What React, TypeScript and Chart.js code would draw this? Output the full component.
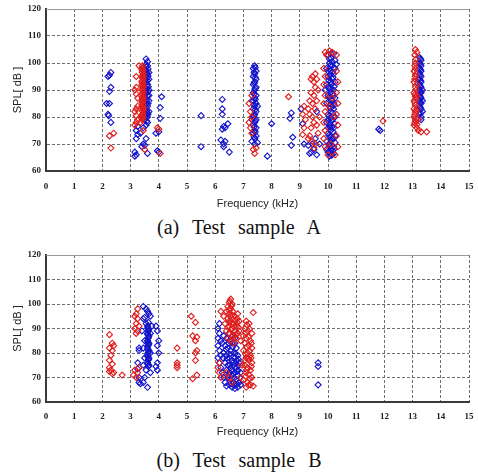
import React, { useEffect, useRef } from "react";
import { Chart, registerables } from "chart.js";

Chart.register(...registerables);

type Pt = [number, number];

const X_MIN = 0;
const X_MAX = 15;
const Y_MIN = 60;
const Y_MAX = 120;
const X_TITLE = "Frequency (kHz)";
const Y_TITLE = "SPL[ dB ]";
const CAPTION_A = "(a)  Test  sample  A";
const CAPTION_B = "(b)  Test  sample  B";

// ---- Test sample A ----
const sampleA_red: Pt[] = [
  [2.25, 73], [2.4, 74], [2.3, 68.5],
  [3.2, 95], [3.2, 91], [3.15, 90], [3.2, 88.5], [3.25, 87], [3.2, 83], [3.15, 82], [3.2, 80.5], [3.25, 79], [3.2, 78], [3.15, 77], [3.25, 84],
  [3.42, 99], [3.4, 97.5], [3.45, 96], [3.42, 94.5], [3.4, 93], [3.45, 91.5], [3.42, 90], [3.4, 88.5], [3.45, 87], [3.42, 85.5], [3.4, 84], [3.45, 82.5], [3.42, 81], [3.4, 79.5], [3.45, 95], [3.4, 92], [3.45, 89], [3.4, 86], [3.45, 83.5], [3.4, 80.5],
  [3.41, 79], [3.44, 79.8], [3.41, 80.6], [3.44, 81.4], [3.41, 82.2], [3.44, 83], [3.41, 83.8], [3.44, 84.6], [3.41, 85.4], [3.44, 86.2], [3.41, 87], [3.44, 87.8], [3.41, 88.6], [3.44, 89.4], [3.41, 90.2], [3.44, 91], [3.41, 91.8], [3.44, 92.6], [3.41, 93.4], [3.44, 94.2], [3.41, 95], [3.44, 95.8], [3.41, 96.6], [3.44, 97.4], [3.41, 98.2],
  [3.5, 68], [3.45, 75], [3.3, 99], [3.35, 78],
  [4.0, 75.5], [3.95, 76], [4.05, 66.5],
  [7.2, 85], [7.25, 82], [7.2, 78], [7.3, 74], [7.3, 88], [7.35, 68], [7.4, 66.5], [7.45, 68.5], [7.3, 80], [7.25, 76],
  [8.6, 87.5],
  [9.1, 81], [9.15, 84], [9.1, 73.5], [9.15, 76], [9.2, 79], [9.3, 83], [9.35, 86], [9.4, 94], [9.45, 95], [9.5, 93], [9.55, 91], [9.4, 89], [9.5, 88], [9.45, 85], [9.6, 86], [9.35, 81], [9.45, 80], [9.55, 83], [9.5, 78], [9.4, 76], [9.6, 77], [9.35, 73], [9.45, 71], [9.55, 70], [9.65, 74], [9.7, 80], [9.65, 90], [9.6, 94], [9.55, 96], [9.3, 72], [9.5, 68.5],
  [9.9, 104], [9.95, 103], [10.05, 104.5], [10.15, 104], [10.3, 103], [9.85, 98], [9.9, 95], [9.85, 92], [9.9, 88], [9.85, 85], [9.9, 82], [9.85, 78], [9.9, 75], [9.85, 72], [9.9, 69], [10.3, 97], [10.35, 93], [10.3, 89], [10.35, 85], [10.3, 81], [10.35, 77], [10.3, 73], [10.35, 69], [10.25, 66], [10.0, 66], [10.1, 70], [10.2, 80], [10.05, 84], [10.15, 87],
  [11.95, 78.5],
  [13.1, 105], [13.15, 104], [13.1, 100], [13.05, 97], [13.1, 95], [13.05, 93], [13.1, 91], [13.05, 89], [13.1, 87.5], [13.05, 86], [13.1, 84.5], [13.05, 83], [13.1, 81.5], [13.05, 80], [13.1, 78.5], [13.05, 77], [13.15, 76], [13.2, 75], [13.3, 74.5], [13.5, 74.5], [13.15, 92], [13.15, 88], [13.15, 83], [13.2, 79], [13.1, 98],
  [13.08, 103], [13.12, 101.5], [13.08, 99], [13.12, 96], [13.08, 94], [13.12, 90], [13.08, 88.3], [13.12, 86.8], [13.08, 85.3], [13.12, 82.2], [13.08, 80.8], [13.12, 79.3], [13.08, 77.8], [13.15, 77.2],
];

const sampleA_blue: Pt[] = [
  [2.3, 96.5], [2.25, 95.5], [2.2, 95], [2.3, 91], [2.25, 89.5], [2.15, 85], [2.25, 85], [2.2, 81], [2.22, 80.5], [2.3, 78],
  [3.2, 75], [3.25, 73.5], [3.2, 72], [3.15, 67], [3.2, 66], [3.15, 65.5], [3.25, 76.5],
  [3.55, 101.5], [3.6, 99], [3.5, 98], [3.55, 97], [3.6, 96], [3.5, 95], [3.65, 94], [3.55, 93], [3.6, 92], [3.5, 91], [3.65, 90], [3.55, 89], [3.6, 88], [3.5, 87], [3.65, 86], [3.55, 85], [3.6, 84], [3.5, 83], [3.65, 82], [3.55, 81], [3.6, 80], [3.5, 79], [3.6, 78], [3.55, 77], [3.65, 96.5], [3.6, 93.5], [3.55, 90.5], [3.65, 88], [3.5, 85.5], [3.6, 81.5], [3.5, 92.5], [3.55, 99.5],
  [3.57, 78.5], [3.52, 80.2], [3.62, 81], [3.57, 82.3], [3.52, 84], [3.62, 85], [3.57, 86.2], [3.52, 88.3], [3.62, 89.4], [3.57, 91.7], [3.52, 93.8], [3.62, 95.2], [3.57, 96.4], [3.52, 97.2], [3.62, 97.8], [3.57, 98.6], [3.6, 100.5], [3.53, 89.6], [3.63, 91.2], [3.58, 94.6],
  [3.45, 70], [3.5, 69.5], [3.55, 72], [3.6, 66.5], [3.4, 69], [3.45, 76], [3.35, 74],
  [4.1, 87.5], [4.05, 83.5], [4.05, 79.5], [4.0, 74.5], [3.9, 74], [3.95, 67.5], [4.0, 67],
  [5.5, 80.5], [5.5, 69],
  [6.25, 86.5], [6.25, 83], [6.25, 81], [6.3, 76.5], [6.35, 76], [6.45, 77.5], [6.2, 71.5], [6.3, 70], [6.35, 71], [6.5, 67], [6.25, 75.5], [6.3, 69],
  [7.4, 99], [7.35, 98], [7.45, 97], [7.4, 96], [7.35, 95], [7.45, 94], [7.4, 93], [7.35, 92], [7.45, 91], [7.4, 90], [7.35, 89], [7.45, 88], [7.4, 87], [7.35, 86], [7.45, 85], [7.4, 84], [7.35, 83], [7.45, 82], [7.4, 81], [7.35, 80], [7.45, 79], [7.4, 78], [7.35, 77], [7.45, 76], [7.4, 75], [7.35, 74], [7.45, 73], [7.4, 72], [7.3, 71], [7.5, 70.5], [7.3, 86], [7.5, 84], [7.3, 79],
  [7.42, 98.3], [7.38, 96.6], [7.42, 94.7], [7.38, 92.5], [7.42, 90.6], [7.38, 88.4], [7.42, 86.5], [7.38, 84.6], [7.42, 82.7], [7.38, 80.4], [7.42, 78.6], [7.38, 76.3], [7.42, 74.4], [7.38, 72.6], [7.4, 70],
  [7.85, 65.5], [8.0, 77.5],
  [8.7, 81.5], [8.65, 79.5], [8.75, 72.5], [8.7, 69.5],
  [9.1, 77.5], [9.05, 83], [9.15, 70], [9.3, 69.5], [9.4, 67], [9.5, 68], [9.6, 66], [9.45, 70], [9.55, 72], [9.35, 66.5], [9.6, 82], [9.7, 70],
  [10.0, 103], [10.1, 102], [10.2, 103.5], [10.05, 100], [10.15, 99], [10.25, 101], [9.95, 98], [10.1, 97], [10.2, 96], [10.0, 95], [10.15, 94], [10.25, 93], [9.95, 92], [10.05, 91], [10.2, 90], [10.1, 89], [10.0, 88], [10.25, 87], [10.15, 86], [9.95, 85], [10.05, 84], [10.2, 83], [10.1, 82], [10.0, 81], [10.25, 80], [10.15, 79], [9.95, 78], [10.05, 77], [10.2, 76], [10.1, 75], [10.0, 74], [10.25, 73], [10.15, 72], [9.95, 71], [10.05, 70], [10.2, 69], [10.1, 68], [10.0, 67], [10.15, 66], [10.05, 65.5], [10.25, 98], [10.1, 93], [10.05, 87.5], [10.2, 85], [10.0, 79], [10.15, 76.5], [10.1, 72.5], [10.25, 70.5], [9.95, 68], [10.2, 66.5], [10.3, 99.5], [9.9, 90],
  [10.1, 103.5], [10.05, 101.5], [10.15, 100.5], [10.1, 99.3], [10.0, 97], [10.2, 98.2], [10.08, 95.8], [10.18, 94.7], [10.03, 93.6], [10.13, 92.2], [10.22, 91.3], [10.07, 90.2], [10.17, 88.6], [10.02, 87.2], [10.12, 86.4], [10.22, 84.4], [10.08, 83.2], [10.17, 81.6], [10.03, 80.3], [10.13, 78.4], [10.22, 77.6], [10.07, 76.2], [10.18, 74.5], [10.03, 73.2], [10.12, 71.3], [10.22, 68.2], [10.08, 69.2], [10.17, 67.6], [10.02, 69.8], [10.12, 65.8], [10.1, 84.8], [10.2, 88], [10.0, 91], [10.15, 96.5], [10.05, 97.8], [10.1, 79.6], [10.0, 76], [10.2, 72], [10.05, 67],
  [11.8, 75.5], [11.85, 75],
  [13.25, 102], [13.3, 101], [13.25, 100], [13.3, 99], [13.25, 98], [13.3, 97], [13.25, 96], [13.3, 95], [13.25, 94], [13.3, 93], [13.25, 92], [13.3, 91], [13.25, 90], [13.3, 89], [13.25, 88], [13.3, 87], [13.25, 86], [13.3, 85], [13.25, 84], [13.3, 83], [13.35, 82], [13.25, 81], [13.3, 80], [13.35, 86], [13.35, 90], [13.2, 94],
  [13.28, 101.5], [13.27, 99.5], [13.28, 97.5], [13.27, 95.5], [13.28, 93.5], [13.27, 91.5], [13.28, 89.5], [13.27, 87.5], [13.28, 85.5], [13.27, 83.5], [13.28, 81.5], [13.3, 79],
];

// ---- Test sample B ----
const sampleB_red: Pt[] = [
  [2.25, 87.5], [2.35, 84], [2.4, 83], [2.25, 82], [2.35, 81], [2.3, 79], [2.25, 77], [2.35, 75.5], [2.25, 74], [2.3, 73], [2.4, 72], [2.25, 72.5], [2.35, 71.5], [2.7, 71],
  [3.25, 98], [3.2, 96], [3.15, 95], [3.25, 94], [3.2, 92], [3.3, 91], [3.15, 90], [3.25, 89], [3.2, 88], [3.3, 74], [3.15, 73], [3.1, 71], [3.2, 70], [3.25, 72],
  [4.65, 82], [4.65, 76], [4.65, 75], [4.65, 74],
  [5.15, 95], [5.3, 92.5], [5.2, 87], [5.35, 86.5], [5.3, 85], [5.35, 81], [5.3, 80], [5.3, 77], [5.2, 69.5], [5.35, 71],
  [6.2, 97], [6.15, 76], [6.1, 74], [6.15, 72], [6.2, 70],
  [6.55, 102], [6.5, 100.5], [6.6, 100], [6.45, 99], [6.55, 98], [6.4, 97], [6.5, 96], [6.6, 95.5], [6.7, 95], [6.8, 96], [6.45, 94], [6.55, 93], [6.65, 92], [6.75, 91], [6.85, 93], [6.5, 91], [6.6, 90], [6.7, 89], [6.8, 88], [6.4, 89], [6.5, 88], [6.6, 87], [6.75, 86], [6.85, 89], [6.45, 86], [6.55, 85], [6.65, 84], [6.9, 85], [6.35, 92], [6.3, 95],
  [6.52, 101.2], [6.58, 99.3], [6.48, 97.6], [6.62, 97], [6.53, 95], [6.72, 93.5], [6.58, 92.2], [6.48, 92.8], [6.68, 90.6], [6.78, 92.5], [6.55, 89.5], [6.72, 87.5], [6.62, 85.8], [6.82, 90.5], [6.45, 90.5], [6.78, 94],
  [7.35, 96.5], [7.1, 93], [7.2, 92], [7.05, 90], [7.15, 89], [7.3, 88], [7.0, 87], [7.1, 86], [7.25, 85], [7.05, 84], [7.2, 83], [7.3, 82], [7.0, 81], [7.15, 80], [7.25, 79], [7.1, 78], [7.2, 77], [7.3, 76], [7.05, 75], [7.15, 74], [7.25, 73], [7.1, 72], [7.2, 71], [7.3, 70], [7.0, 69], [7.15, 68], [7.25, 67], [7.35, 66.5], [7.1, 66],
  [7.12, 91.5], [7.22, 89.8], [7.08, 88.2], [7.18, 86.5], [7.28, 84], [7.12, 82.5], [7.22, 80.8], [7.08, 79.5], [7.18, 77.8], [7.28, 74.5], [7.12, 73.2], [7.22, 69.5], [7.08, 70.5], [7.18, 66.8], [7.05, 77], [7.27, 78],
  [6.5, 70], [6.6, 68], [6.4, 72], [6.9, 70], [6.95, 75],
];

const sampleB_blue: Pt[] = [
  [3.3, 82], [3.3, 81], [3.25, 76], [3.3, 68], [3.35, 67.5], [3.25, 73.5], [3.3, 70],
  [3.45, 99], [3.55, 98], [3.6, 97], [3.65, 96], [3.5, 94.5], [3.45, 94], [3.55, 92], [3.6, 91], [3.62, 90], [3.63, 89], [3.6, 88], [3.65, 87], [3.62, 86], [3.6, 85], [3.65, 84], [3.62, 83], [3.6, 82], [3.65, 81], [3.62, 80], [3.6, 79], [3.65, 78], [3.62, 77], [3.6, 76], [3.65, 75], [3.4, 89], [3.5, 85], [3.45, 82], [3.5, 78], [3.45, 75], [3.55, 73], [3.5, 70], [3.45, 68], [3.6, 66], [3.7, 95], [3.75, 91], [3.7, 88], [3.7, 80], [3.7, 72],
  [3.63, 92.5], [3.61, 90.5], [3.64, 89.5], [3.61, 87.5], [3.64, 86.5], [3.61, 84.5], [3.64, 83.5], [3.61, 81.5], [3.64, 80.5], [3.61, 78.5], [3.64, 77.5], [3.61, 75.5], [3.63, 74.5],
  [3.9, 91], [3.95, 89], [4.0, 85], [3.95, 83], [4.0, 80], [3.95, 76], [3.9, 74.5], [3.95, 73],
  [6.15, 92], [6.1, 90], [6.15, 88], [6.1, 86], [6.2, 85], [6.1, 83], [6.15, 81], [6.2, 79], [6.1, 78], [6.15, 76], [6.2, 74], [6.25, 72], [6.3, 70], [6.35, 68], [6.4, 66.5],
  [6.3, 87], [6.4, 86], [6.5, 85], [6.6, 84], [6.35, 83], [6.45, 82], [6.55, 81], [6.65, 80], [6.75, 82], [6.3, 80], [6.4, 79], [6.5, 78], [6.6, 77], [6.7, 78], [6.8, 79], [6.35, 76], [6.45, 75], [6.55, 74], [6.65, 75], [6.75, 74], [6.85, 76], [6.4, 73], [6.5, 72], [6.6, 71], [6.7, 72], [6.8, 71], [6.45, 70], [6.55, 69], [6.65, 68], [6.75, 69], [6.85, 68], [6.5, 67], [6.6, 66], [6.7, 65.5], [6.8, 66], [6.9, 67], [6.7, 84], [6.6, 87], [6.5, 88], [6.25, 84], [6.8, 73], [6.9, 72], [6.75, 77], [6.65, 71.5],
  [6.62, 82.5], [6.52, 79.5], [6.72, 79.8], [6.42, 77.8], [6.62, 76], [6.82, 77.5], [6.52, 75.2], [6.72, 75.8], [6.58, 72.8], [6.78, 72.5], [6.48, 71.2], [6.68, 69.8], [6.88, 69.8], [6.58, 67.5], [6.78, 67.2], [6.68, 66.8], [6.38, 81.5], [6.28, 78], [6.48, 84], [6.7, 86.2], [6.82, 74.8],
  [9.65, 76], [9.65, 74.5], [9.65, 67],
];

const RED = "#e01e1e";
const BLUE = "#1414cc";

const topBorder = {
  id: "topBorder",
  afterDraw(chart: any) {
    const { ctx, chartArea } = chart;
    ctx.save();
    ctx.strokeStyle = "#9a9a9a";
    ctx.lineWidth = 1;
    ctx.beginPath();
    ctx.moveTo(chartArea.left, chartArea.top + 0.5);
    ctx.lineTo(chartArea.right, chartArea.top + 0.5);
    ctx.stroke();
    ctx.restore();
  },
};

interface PanelProps {
  red: Pt[];
  blue: Pt[];
  height: number;
  xAxisHeight: number;
  tickPad: number;
}

function Panel({ red, blue, height, xAxisHeight, tickPad }: PanelProps) {
  const ref = useRef<HTMLCanvasElement>(null);
  useEffect(() => {
    if (!ref.current) return;
    const mk = (pts: Pt[], color: string) => ({
      data: pts.map(([x, y]) => ({ x, y })),
      pointStyle: "rectRot" as const,
      pointRadius: 3,
      pointBorderWidth: 1.1,
      borderColor: color,
      backgroundColor: "rgba(0,0,0,0)",
      showLine: false,
    });
    const tickFont = { family: "'Liberation Serif', 'Times New Roman', serif", size: 9, weight: "bold" as const };
    const chart = new Chart(ref.current, {
      type: "scatter",
      data: { datasets: [mk(red, RED), mk(blue, BLUE)] },
      plugins: [topBorder],
      options: {
        animation: false,
        responsive: false,
        devicePixelRatio: 1,
        layout: { padding: { top: 9, right: 9, left: 0, bottom: 0 } },
        plugins: { legend: { display: false }, tooltip: { enabled: false } },
        scales: {
          x: {
            type: "linear",
            min: X_MIN,
            max: X_MAX,
            afterFit: (s: any) => { s.height = xAxisHeight; s.paddingLeft = 0; s.paddingRight = 0; },
            ticks: { stepSize: 1, padding: tickPad, color: "#222", font: tickFont },
            grid: { color: "#6e6e6e", lineWidth: 1, drawTicks: false },
            border: { display: true, color: "#3a3a3a", width: 2, dash: [3, 2] },
            title: {
              display: true,
              text: X_TITLE,
              color: "#222",
              font: { family: "'Liberation Sans', Arial, sans-serif", size: 11 },
              padding: { top: 0, bottom: 3 },
            },
          },
          y: {
            type: "linear",
            min: Y_MIN,
            max: Y_MAX,
            afterFit: (s: any) => { s.width = 46; s.paddingTop = 0; s.paddingBottom = 0; },
            ticks: { stepSize: 10, padding: 5, color: "#222", font: tickFont },
            grid: { color: "#6e6e6e", lineWidth: 1, drawTicks: false },
            border: { display: true, color: "#3a3a3a", width: 2, dash: [3, 2] },
            title: {
              display: true,
              text: Y_TITLE,
              color: "#222",
              font: { family: "'Liberation Sans', Arial, sans-serif", size: 11 },
              padding: { top: 11, bottom: 0 },
            },
          },
        },
      },
    });
    return () => chart.destroy();
  }, [red, blue, xAxisHeight, tickPad]);
  return <canvas ref={ref} width={478} height={height} style={{ display: "block", width: 478, height }} />;
}

const captionStyle: React.CSSProperties = {
  position: "absolute",
  left: 0,
  width: 478,
  textAlign: "center",
  fontFamily: "'Liberation Serif', 'Times New Roman', serif",
  fontSize: 20,
  lineHeight: "22px",
  wordSpacing: "1.5px",
  whiteSpace: "pre",
  color: "#111",
};

export default function App() {
  return (
    <div style={{ position: "fixed", left: 0, top: 0, width: 478, height: 474, background: "#fff", overflow: "hidden" }}>
      <div style={{ position: "absolute", left: 0, top: 0 }}>
        <Panel red={sampleA_red} blue={sampleA_blue} height={214} xAxisHeight={43} tickPad={10} />
      </div>
      <div style={{ ...captionStyle, top: 216 }}>{CAPTION_A}</div>
      <div style={{ position: "absolute", left: 0, top: 246 }}>
        <Panel red={sampleB_red} blue={sampleB_blue} height={196} xAxisHeight={40} tickPad={9} />
      </div>
      <div style={{ ...captionStyle, top: 449 }}>{CAPTION_B}</div>
    </div>
  );
}
